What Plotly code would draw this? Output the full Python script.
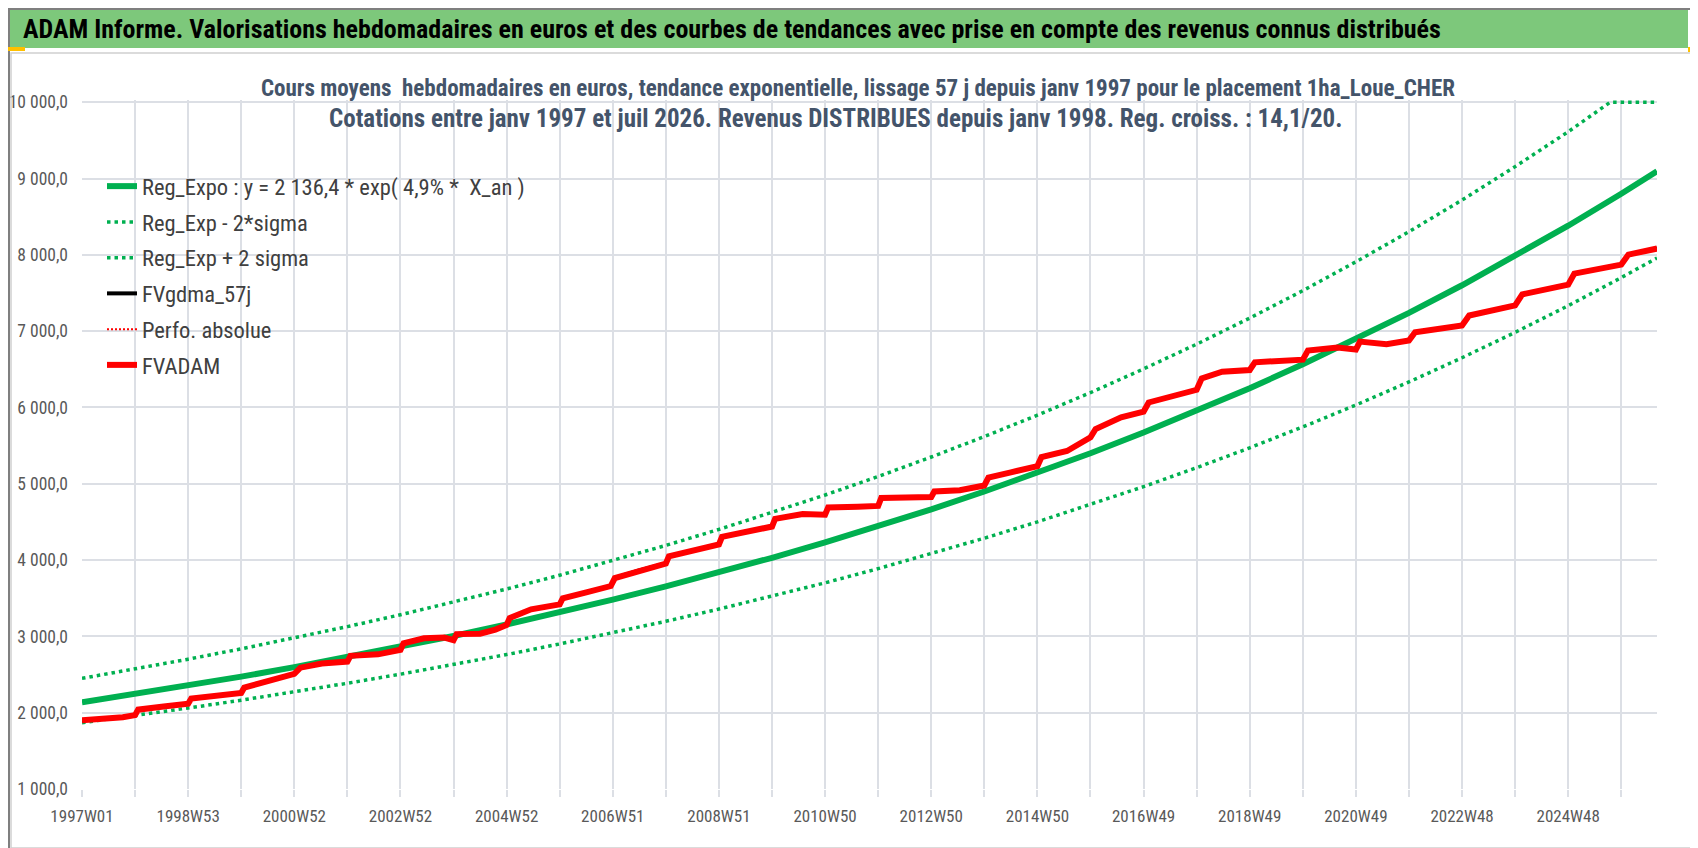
import plotly.graph_objects as go

# --- data (x = week index from 1997W01) ---
week_labels = ["1997W01", "1998W53", "2000W52", "2002W52", "2004W52", "2006W51", "2008W51",
               "2010W50", "2012W50", "2014W50", "2016W49", "2018W49", "2020W49", "2022W48", "2024W48"]
last_week = 1543

reg_weeks = [0, 52, 104, 156, 208, 260, 312, 364, 416, 468, 520, 572, 624, 676, 728, 780, 832,
             884, 936, 988, 1040, 1092, 1144, 1196, 1248, 1300, 1352, 1404, 1456, 1508, 1543]
reg_expo = [2136, 2243, 2355, 2473, 2597, 2727, 2863, 3006, 3157, 3315, 3481, 3655, 3838, 4030,
            4231, 4443, 4665, 4899, 5144, 5401, 5672, 5955, 6253, 6566, 6895, 7240, 7602, 7983,
            8382, 8802, 9097]
reg_lo = [1869, 1963, 2061, 2164, 2272, 2386, 2505, 2630, 2762, 2901, 3046, 3198, 3358, 3526,
          3702, 3888, 4082, 4287, 4501, 4726, 4963, 5211, 5471, 5745, 6033, 6335, 6652, 6985,
          7334, 7702, 7960]

hi_weeks = [0, 52, 104, 156, 208, 260, 312, 364, 416, 468, 520, 572, 624, 676, 728, 780, 832,
            884, 936, 988, 1040, 1092, 1144, 1196, 1248, 1300, 1352, 1404, 1456, 1497, 1508, 1543]
reg_hi = [2450, 2573, 2701, 2837, 2979, 3128, 3284, 3448, 3621, 3802, 3993, 4192, 4402, 4622,
          4853, 5096, 5351, 5619, 5900, 6195, 6506, 6830, 7172, 7531, 7909, 8304, 8719, 9157,
          9614, 10000, 10000, 10000]

fv_weeks = [0, 20, 40, 52, 55, 80, 104, 107, 130, 156, 159, 185, 208, 214, 235, 260, 263, 290,
            312, 315, 335, 355, 364, 367, 390, 405, 416, 419, 440, 468, 471, 495, 518, 522, 545,
            572, 575, 600, 624, 627, 650, 676, 679, 706, 728, 731, 760, 780, 783, 800, 832, 835,
            860, 884, 888, 910, 936, 940, 965, 988, 993, 1018, 1040, 1045, 1070, 1092, 1097, 1117,
            1144, 1149, 1196, 1201, 1230, 1248, 1252, 1278, 1300, 1306, 1352, 1359, 1404, 1411,
            1456, 1462, 1508, 1515, 1543]
fvadam = [1902, 1915, 1940, 1968, 2040, 2080, 2118, 2185, 2215, 2260, 2330, 2420, 2510, 2590,
          2645, 2670, 2745, 2765, 2825, 2910, 2975, 2985, 2950, 3030, 3035, 3090, 3150, 3240,
          3355, 3420, 3500, 3580, 3660, 3765, 3860, 3955, 4050, 4130, 4205, 4305, 4370, 4440,
          4540, 4605, 4595, 4690, 4700, 4710, 4815, 4822, 4828, 4900, 4915, 4978, 5080, 5150,
          5232, 5350, 5430, 5608, 5718, 5872, 5945, 6066, 6150, 6232, 6382, 6469, 6491, 6592,
          6627, 6746, 6785, 6759, 6864, 6829, 6877, 6987, 7075, 7206, 7338, 7482, 7610, 7754,
          7873, 8004, 8083]
fvgdma = fvadam
perfo = fvadam

title = ("ADAM Informe. Valorisations hebdomadaires en euros et des courbes de tendances "
         "avec prise en compte des revenus connus distribués")
subtitle_1 = ("Cours moyens  hebdomadaires en euros, tendance exponentielle, lissage 57 j depuis "
              "janv 1997 pour le placement 1ha_Loue_CHER")
subtitle_2 = ("Cotations entre janv 1997 et juil 2026. Revenus DISTRIBUES depuis janv 1998. "
              "Reg. croiss. : 14,1/20.")

FONT = "Liberation Sans Narrow, Roboto Condensed, Arial Narrow, sans-serif"
GREEN = "#00B050"
GRID = "#DCDFE5"

# plot area in pixels
L, R, T, B = 74, 1649, 92, 781


def px_x(px):
    return (px - L) / (R - L)


def px_y(py):
    return (B - py) / (B - T)


fig = go.Figure()
fig.add_trace(go.Scatter(x=reg_weeks, y=reg_expo, mode="lines", legendgroup="a",
                         name="Reg_Expo : y = 2 136,4 * exp( 4,9% *  X_an )",
                         line=dict(color=GREEN, width=6)))
fig.add_trace(go.Scatter(x=reg_weeks, y=reg_lo, mode="lines", legendgroup="b",
                         name="Reg_Exp - 2*sigma",
                         line=dict(color=GREEN, width=3.5, dash="3.5px,4px")))
fig.add_trace(go.Scatter(x=hi_weeks, y=reg_hi, mode="lines", legendgroup="c",
                         name="Reg_Exp + 2 sigma",
                         line=dict(color=GREEN, width=3.5, dash="3.5px,4px")))
fig.add_trace(go.Scatter(x=fv_weeks, y=fvgdma, mode="lines", legendgroup="d",
                         name="FVgdma_57j", line=dict(color="black", width=4)))
fig.add_trace(go.Scatter(x=fv_weeks, y=perfo, mode="lines", legendgroup="e",
                         name="Perfo. absolue",
                         line=dict(color="#FF0000", width=2, dash="2px,2px")))
fig.add_trace(go.Scatter(x=fv_weeks, y=fvadam, mode="lines", legendgroup="f",
                         name="FVADAM", line=dict(color="#FF0000", width=6)))

tickvals = list(range(0, last_week, 52))
ticktext = [week_labels[i // 2] if i % 2 == 0 else "" for i in range(len(tickvals))]

fig.update_xaxes(range=[0, last_week], tickvals=tickvals, ticktext=ticktext,
                 showgrid=True, gridcolor=GRID, gridwidth=1.5, zeroline=False,
                 ticks="outside", ticklen=7, tickcolor=GRID, tickwidth=1.5,
                 ticklabelstandoff=5, automargin=False,
                 tickfont=dict(family=FONT, size=17, color="#595959"), showline=False)
fig.update_yaxes(range=[1000, 10030], dtick=1000, tick0=1000, tickformat=",.1f",
                 showgrid=True, gridcolor=GRID, gridwidth=1.5, zeroline=False,
                 ticklabelstandoff=13, automargin=False,
                 tickfont=dict(family=FONT, size=17.5, color="#595959"), showline=False)

shapes = [
    # header band
    dict(type="rect", xref="paper", yref="paper", x0=px_x(0), x1=px_x(1680),
         y0=px_y(40), y1=px_y(0), fillcolor="#7DC87B", line=dict(width=0), layer="below"),
    # white box behind the chart title (hides the gridlines there)
    dict(type="rect", xref="paper", yref="paper", x0=px_x(255), x1=px_x(1440),
         y0=px_y(128), y1=px_y(58), fillcolor="white", line=dict(width=0), layer="between"),
    # chart frame
    dict(type="rect", xref="paper", yref="paper", x0=px_x(3), x1=px_x(1692),
         y0=px_y(840), y1=px_y(45), line=dict(color="#D0D0D0", width=1.5)),
    # outer window border
    dict(type="line", xref="paper", yref="paper", x0=px_x(1), x1=px_x(1), y0=px_y(0), y1=px_y(848),
         line=dict(color="#7F7F7F", width=2)),
    dict(type="line", xref="paper", yref="paper", x0=px_x(0), x1=px_x(1698), y0=px_y(1), y1=px_y(1),
         line=dict(color="#7F7F7F", width=2)),
    dict(type="line", xref="paper", yref="paper", x0=px_x(0), x1=px_x(1698), y0=px_y(847), y1=px_y(847),
         line=dict(color="#7F7F7F", width=2)),
]
# selection handles
for x0, x1, y0, y1 in [(0, 17, 39, 43), (1680, 1695, 39, 44), (1689, 1695, 39, 54),
                       (1689, 1695, 812, 846), (0, 18, 841, 846)]:
    shapes.append(dict(type="rect", xref="paper", yref="paper", x0=px_x(x0), x1=px_x(x1),
                       y0=px_y(y1), y1=px_y(y0), fillcolor="#FFC000", line=dict(width=0)))

annotations = [
    dict(text="<b>" + title + "</b>", x=px_x(13), y=px_y(21), xref="paper", yref="paper",
         xanchor="left", yanchor="middle", showarrow=False,
         font=dict(family=FONT, size=26, color="black")),
    dict(text="<b>" + subtitle_1 + "</b>", x=px_x(850), y=px_y(81),
         xref="paper", yref="paper", xanchor="center", yanchor="middle", showarrow=False,
         font=dict(family=FONT, size=23, color="#44546A")),
    dict(text="<b>" + subtitle_2 + "</b>", x=px_x(827), y=px_y(110),
         xref="paper", yref="paper", xanchor="center", yanchor="middle", showarrow=False,
         font=dict(family=FONT, size=25, color="#44546A")),
]

fig.update_layout(
    width=1698, height=848,
    margin=dict(l=L, r=1698 - R, t=T, b=848 - B, autoexpand=False),
    paper_bgcolor="white", plot_bgcolor="white",
    separators=", ",
    shapes=shapes, annotations=annotations,
    legend=dict(x=px_x(94), y=px_y(157), xanchor="left", yanchor="top",
                bgcolor="rgba(0,0,0,0)", tracegroupgap=3.5,
                font=dict(family=FONT, size=22.5, color="#404040")),
)

fig.write_html("out.html")
